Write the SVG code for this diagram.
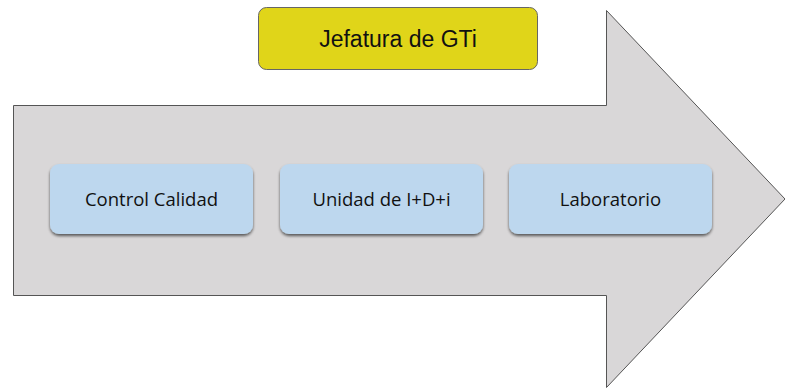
<svg xmlns="http://www.w3.org/2000/svg" width="785" height="388" viewBox="0 0 785 388">
<defs>
<filter id="sh" x="-10%" y="-10%" width="120%" height="130%">
<feGaussianBlur in="SourceAlpha" stdDeviation="1.5"/>
<feOffset dx="0" dy="2" result="b"/>
<feComponentTransfer><feFuncA type="linear" slope="0.6"/></feComponentTransfer>
<feMerge><feMergeNode/><feMergeNode in="SourceGraphic"/></feMerge>
</filter>
<style>
.unit{fill:#BDD7EE;filter:url(#sh);}
.ut{font-family:"Open Sans","Noto Sans",sans-serif;font-size:18.5px;fill:#111;text-anchor:middle;}
</style>
</defs>
<rect width="785" height="388" fill="#fff"/>
<g id="arrow">
<path d="M13.5,105.5 H606.5 V10.5 L785,199 L606.5,387.5 V295.5 H13.5 Z" fill="#D9D7D8" stroke="#555" stroke-width="1"/>
</g>
<g id="jefatura">
<rect x="258.5" y="7.5" width="279" height="62" rx="8" fill="#E0D519" stroke="#666" stroke-width="1"/>
<text x="398" y="47" font-family="Liberation Sans,Arial,sans-serif" font-size="23" text-anchor="middle" fill="#111">Jefatura de GTi</text>
</g>
<g id="control-calidad">
<rect class="unit" x="50" y="164" width="203" height="70" rx="9"/>
<text class="ut" x="151.5" y="206">Control Calidad</text>
</g>
<g id="unidad-idi">
<rect class="unit" x="280" y="164" width="203" height="70" rx="9"/>
<text class="ut" x="381.5" y="206">Unidad de I+D+i</text>
</g>
<g id="laboratorio">
<rect class="unit" x="509" y="164" width="203" height="70" rx="9"/>
<text class="ut" x="610.5" y="206">Laboratorio</text>
</g>
<g id="connectors"/>
</svg>
